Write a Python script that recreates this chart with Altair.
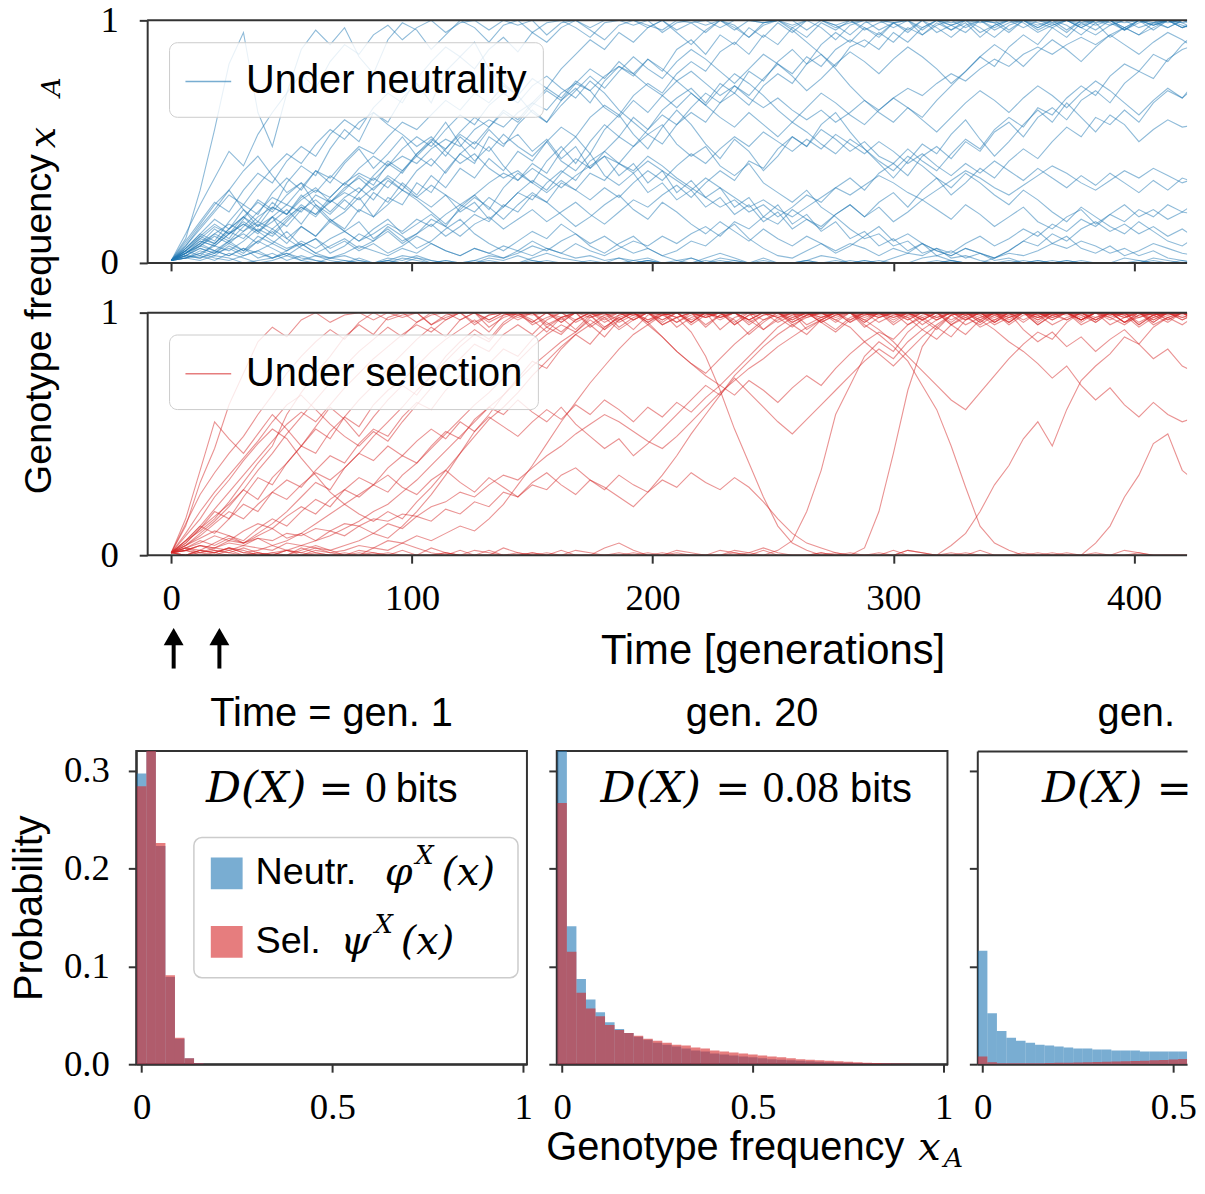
import altair as alt
import pandas as pd

alt.data_transformers.disable_max_rows()

# ---------------- trajectories: allele frequency in percent, one value every STEP generations -------------
STEP = 6

n01 = [1,10,30,55,82,95,62,48,70,88,96,90,
       97,85,78,92,99,96,88,94,100,97,91,98,
       100,95,99,100,97,93,99,100,100,98,96,100,
       99,100,97,100,100,99,100,98,100,100,97,99,
       100,100,99,96,100,100,98,100,100,99,100,100,
       97,100,100,99,100,98,100,100,100,99,100,100]
n02 = [1,4,8,14,10,18,26,22,33,40,36,47,
       55,50,62,58,68,74,66,79,85,80,88,93,
       87,95,91,97,100,96,92,98,100,97,100,95,
       90,96,100,98,93,99,100,100,96,100,98,94,
       99,100,97,100,100,95,98,100,99,100,96,100,
       100,98,100,97,100,100,99,100,96,100,100,98]
n03 = [1,2,5,3,7,4,9,13,8,15,11,18,
       14,22,19,27,24,33,29,38,45,41,52,48,
       57,63,58,67,72,66,75,81,77,84,79,88,
       92,86,94,90,97,93,99,95,100,97,92,98,
       100,96,99,100,94,98,100,97,100,99,95,100,
       98,100,96,100,99,93,97,100,98,100,99,96]
n04 = [1,6,12,9,17,24,20,29,35,30,38,33,
       41,47,39,45,52,44,50,58,49,42,48,40,
       34,41,37,46,52,45,55,61,53,47,56,63,
       57,49,43,51,46,38,44,52,48,57,62,54,
       47,41,35,42,49,45,53,59,51,44,50,57,
       63,58,66,60,54,61,57,50,55,59,56,57]
n05 = [1,3,6,4,9,5,11,8,13,7,10,4,
       7,12,9,15,11,6,9,14,18,12,8,5,
       9,13,10,16,12,7,4,8,11,6,3,5,
       9,7,12,16,10,6,3,2,5,8,4,7,
       11,15,9,12,8,5,3,6,4,2,5,9,
       13,8,11,6,4,7,3,5,8,6,4,3]
n06 = [1,4,8,5,3,6,2,4,1,3,1,0,
       0,1,0,0,2,1,0,0,0,1,0,0,
       0,0,1,0,0,0,0,0,1,2,0,0,
       0,0,0,1,0,0,0,0,0,0,1,0,
       0,0,0,0,0,1,0,0,0,0,0,0,
       1,0,0,0,0,0,2,1,0,0,0,0]
n07 = [1,7,15,22,30,38,44,36,29,33,24,18,
       13,17,10,14,9,12,18,15,23,28,22,31,
       37,33,42,48,41,50,57,52,60,55,63,68,
       72,66,74,70,79,75,83,88,82,90,95,91,
       97,93,99,95,100,97,93,98,100,96,99,100,
       97,100,98,94,99,100,97,100,98,100,99,100]
n08 = [1,5,10,8,14,19,15,23,20,27,31,25,
       30,36,32,41,37,45,50,44,52,47,55,49,
       53,46,51,43,48,39,44,36,41,33,38,29,
       34,27,31,23,27,19,24,16,20,13,17,10,
       13,7,10,5,8,3,5,2,4,1,2,0,
       1,0,0,1,0,0,0,1,0,0,0,0]
n09 = [1,3,2,5,3,6,4,2,5,8,4,7,
       10,6,9,13,8,12,16,11,15,20,17,24,
       21,28,25,33,30,37,34,41,38,44,40,35,
       31,27,23,26,21,24,19,23,28,25,31,35,
       30,37,41,36,44,48,43,50,46,54,58,52,
       60,64,59,67,71,66,74,79,76,84,88,90]
n10 = [1,6,11,8,14,19,13,17,22,16,24,20,
       26,21,29,25,33,28,36,31,39,35,43,38,
       46,42,50,56,52,60,65,61,69,74,70,78,
       83,79,87,91,86,94,90,97,93,99,96,100,
       97,94,99,100,96,100,98,95,100,97,100,99,
       95,98,100,97,100,99,96,100,98,100,97,99]
n11 = [1,8,16,24,30,22,15,19,10,6,3,1,
       0,2,0,1,0,0,0,1,0,0,0,0,
       0,1,0,0,0,0,0,0,0,1,0,0,
       2,0,0,0,0,0,0,0,1,0,0,0,
       0,0,0,0,0,0,1,0,0,0,0,0,
       0,0,1,0,0,0,0,0,0,0,1,0]
n12 = [1,2,4,2,1,3,5,2,4,1,3,2,
       4,7,5,3,6,4,8,5,3,6,4,7,
       5,9,6,4,8,5,3,6,9,7,11,8,
       12,15,11,17,14,19,16,22,18,14,20,24,
       19,23,17,21,26,22,18,24,20,15,19,23,
       17,14,19,22,16,20,24,19,22,18,21,20]
n13 = [1,9,17,25,21,30,37,33,42,48,44,53,
       59,55,64,70,66,76,83,89,85,91,80,74,
       69,76,72,80,86,92,88,95,91,97,100,96,
       99,95,100,97,93,98,100,96,91,86,80,73,
       67,62,58,64,60,67,73,79,85,81,89,94,
       90,97,93,99,96,100,97,94,99,100,97,99]
n14 = [1,4,7,5,9,12,8,14,10,15,11,17,
       13,9,14,18,12,16,20,15,11,16,19,14,
       18,22,17,21,25,20,16,21,26,23,28,32,
       27,33,38,34,42,39,47,52,48,55,51,46,
       50,44,41,47,42,38,45,51,47,55,60,56,
       64,61,68,73,69,77,82,79,86,83,90,95]
n15 = [1,5,11,16,12,19,25,21,28,33,29,36,
       32,39,44,40,47,52,48,55,61,57,65,70,
       66,73,77,72,68,75,70,63,58,53,57,49,
       44,48,40,36,41,33,29,25,30,23,19,14,
       10,12,7,9,4,6,2,3,1,0,1,0,
       0,0,1,0,0,0,0,0,1,0,0,0]
n16 = [1,2,1,3,2,0,1,2,4,2,1,0,
       1,0,0,2,1,3,1,0,0,0,1,0,
       0,2,4,2,1,0,0,0,0,1,0,0,
       0,0,2,1,0,0,0,0,0,0,0,1,
       0,0,0,0,2,3,1,0,0,0,0,0,
       0,1,0,0,0,0,0,0,2,1,0,0]
n17 = [1,6,12,18,14,22,17,25,20,28,23,17,
       21,27,19,24,30,26,21,16,22,27,23,18,
       24,29,25,20,15,19,24,28,22,18,25,21,
       16,12,17,13,9,14,10,7,11,8,5,8,
       6,3,6,4,8,5,3,6,4,2,5,9,
       7,12,9,14,17,13,16,12,15,11,14,10]
n18 = [1,12,24,35,46,40,53,62,70,78,72,83,
       90,86,94,98,92,97,100,95,99,100,96,100,
       98,100,94,99,100,97,100,100,98,100,95,99,
       100,98,100,96,100,99,100,97,100,100,98,100,
       96,99,100,100,97,100,99,100,95,98,100,100,
       99,97,100,98,100,100,96,99,100,97,100,100]
n19 = [1,4,9,7,12,16,13,19,24,21,28,25,
       31,35,30,36,32,27,23,28,21,25,18,23,
       29,26,33,38,34,42,46,41,48,53,49,57,
       62,58,66,70,65,73,78,74,82,86,81,89,
       92,88,95,91,97,100,96,99,93,98,100,97,
       100,99,95,100,98,100,96,100,99,97,100,98]
n20 = [1,3,6,4,8,5,9,6,3,7,10,6,
       9,5,8,4,7,11,8,5,3,6,4,2,
       5,3,6,4,2,3,1,2,0,1,0,0,
       0,1,0,0,0,0,0,0,0,0,0,0,
       1,0,0,0,0,0,0,0,0,0,0,1,
       0,0,0,0,0,0,0,0,0,0,0,0]
n21 = [1,5,9,7,12,16,12,19,15,22,26,21,
       27,31,26,34,30,38,43,37,45,50,46,53,
       48,44,50,42,38,45,36,32,37,29,33,26,
       30,23,27,20,24,17,21,14,18,15,20,24,
       19,25,29,23,30,35,28,33,39,35,42,47,
       43,50,56,52,60,57,63,58,66,71,68,75]
n22 = [1,2,3,1,4,2,0,1,3,1,0,2,
       1,0,0,1,3,2,0,1,0,0,2,1,
       3,1,0,0,0,1,0,2,1,0,0,1,
       0,2,4,2,0,1,0,0,1,3,2,0,
       1,0,2,4,3,6,4,8,11,7,10,14,
       11,16,13,18,15,20,17,22,19,24,21,25]
n23 = [1,3,7,12,9,15,21,27,24,31,38,35,
       42,48,45,52,58,55,61,67,63,70,66,73,
       69,62,58,65,71,77,72,79,85,80,76,83,
       88,84,79,74,80,86,82,77,71,76,82,87,
       83,78,84,89,85,80,74,79,85,90,86,81,
       87,92,88,83,89,94,90,86,91,95,92,88]
n24 = [1,5,3,8,13,10,16,12,18,24,20,27,
       33,29,36,42,38,45,51,47,54,60,56,63,
       59,66,72,68,75,71,64,60,67,62,69,75,
       70,65,72,78,74,69,63,58,64,70,66,61,
       57,63,68,64,59,54,60,66,71,67,62,68,
       73,69,64,70,75,71,66,61,67,72,68,73]
n25 = [1,2,4,7,5,9,14,11,17,23,19,26,
       22,29,35,31,38,44,40,47,53,49,56,62,
       58,65,71,67,74,80,76,83,78,73,69,64,
       70,65,60,56,62,57,52,58,54,49,45,51,
       47,42,38,44,40,35,31,37,33,28,24,30,
       26,21,17,23,19,15,12,17,13,9,7,11]
n26 = [1,3,2,4,6,3,5,8,5,9,6,10,
       13,9,12,16,13,18,15,20,24,21,27,23,
       29,34,30,37,43,39,46,52,48,55,61,57,
       64,70,66,73,69,76,82,78,85,81,88,92,
       89,95,91,97,94,99,96,100,97,93,98,100,
       96,99,100,97,94,98,100,97,99,100,98,96]
n27 = [1,7,14,21,28,24,32,39,45,41,49,55,
       51,58,62,57,53,48,52,46,41,45,39,35,
       38,33,29,34,30,26,31,27,33,38,34,40,
       45,41,47,52,48,54,50,46,51,47,53,49,
       45,50,46,41,45,40,36,41,37,42,38,34,
       39,35,31,36,32,37,33,29,34,30,35,33]
n28 = [1,4,8,12,16,13,19,23,20,26,30,27,
       33,37,34,40,44,41,47,51,48,55,59,56,
       62,66,63,70,74,71,77,81,78,84,80,75,
       79,74,69,73,68,64,68,63,59,63,58,62,
       67,63,68,72,69,74,78,75,80,84,81,86,
       89,86,90,93,90,94,97,94,97,100,97,99]
n29 = [1,5,10,15,12,17,13,9,6,8,4,2,
       3,1,0,1,0,2,1,0,0,1,3,2,
       4,7,5,9,12,8,11,7,4,6,3,1,
       2,0,1,0,0,2,0,0,1,0,0,0,
       0,1,0,0,0,0,1,0,0,2,4,3,
       5,8,6,9,7,4,6,3,5,2,1,0]
n30 = [1,4,7,11,8,13,17,14,19,23,20,25,
       29,26,31,35,30,27,32,28,24,28,33,37,
       34,39,35,31,36,40,44,41,37,42,38,34,
       30,35,31,27,23,26,22,19,23,27,31,28,
       32,36,33,29,26,30,34,38,35,31,28,32,
       36,40,37,33,30,34,38,35,39,36,33,35]

s01 = [1,12,30,44,62,75,88,94,90,97,100,96,
       99,100,97,100,98,100,95,99,100,100,97,100,
       99,100,100,96,100,98,100,100,99,100,97,100,
       100,98,100,100,96,99,100,100,98,100,100,97,
       100,99,100,100,98,100,96,100,100,99,100,100,
       98,100,100,97,100,99,100,100,96,100,100,99]
s02 = [1,6,10,15,22,30,38,45,58,67,75,82,
       90,95,91,98,100,96,99,100,97,100,94,98,
       100,99,100,96,100,100,98,93,97,100,99,100,
       96,100,98,100,100,97,99,100,95,98,100,100,
       99,100,97,100,100,98,100,99,94,97,100,100,
       98,100,99,100,96,100,100,98,100,99,100,97]
s03 = [1,2,4,3,6,5,9,13,18,24,30,27,
       36,42,49,55,61,68,74,82,88,93,89,96,
       100,97,92,98,100,95,99,100,97,100,100,94,
       98,100,100,97,91,96,100,99,100,98,100,100,
       96,100,99,100,97,100,100,98,95,99,100,100,
       97,100,100,99,96,100,98,100,100,97,100,99]
s04 = [1,2,1,3,2,4,3,2,5,4,6,8,
       11,14,18,21,26,31,37,43,49,55,61,66,
       72,78,83,88,92,97,93,99,100,96,100,98,
       100,94,99,100,97,100,100,95,98,100,99,100,
       96,100,100,98,100,97,100,100,99,95,98,100,
       100,97,100,99,100,100,96,100,98,100,100,99]
s05 = [1,8,15,24,31,39,46,52,48,40,33,26,
       21,17,14,18,15,22,28,35,42,49,56,61,
       67,74,80,86,91,95,90,97,100,96,99,100,
       97,100,93,98,100,100,96,99,100,97,100,100,
       98,100,95,99,100,100,97,100,99,100,96,100,
       100,98,100,97,100,99,100,100,95,98,100,100]
s06 = [1,9,18,26,33,40,47,55,62,66,60,54,
       49,45,51,47,55,62,69,76,81,87,84,91,
       95,91,97,100,96,99,93,97,100,95,90,84,
       79,74,70,76,82,88,94,98,100,96,99,100,
       97,100,100,98,93,97,100,99,100,96,100,100,
       99,100,97,100,100,95,98,100,99,100,97,100]
s07 = [1,0,2,1,3,2,0,1,2,4,3,1,
       2,4,3,6,5,8,6,9,12,10,15,21,
       29,37,46,55,63,71,78,85,91,95,99,96,
       100,98,100,95,99,100,100,97,100,99,100,96,
       100,100,98,100,97,100,100,99,100,96,100,100,
       98,100,100,97,100,99,100,95,99,100,100,98]
s08 = [1,3,1,0,2,0,1,0,0,2,4,2,
       0,0,1,0,0,0,3,1,0,0,0,0,
       1,0,0,2,0,0,0,0,0,1,0,0,
       0,0,0,0,1,3,1,0,0,0,0,0,
       0,0,2,0,0,0,0,1,0,0,0,0,
       0,0,0,0,1,0,0,0,0,0,0,0]
s09 = [1,3,5,8,6,10,13,11,16,20,17,23,
       27,24,29,33,28,25,31,35,30,26,32,28,
       24,30,34,29,25,31,27,33,29,26,31,28,
       34,30,27,32,28,22,15,9,5,3,1,0,
       0,1,0,0,0,0,0,0,2,0,0,0,
       0,0,1,0,0,0,0,0,0,0,0,0]
s10 = [1,4,9,14,20,27,35,42,50,57,64,71,
       78,84,89,94,90,96,100,97,100,95,99,100,
       98,100,96,92,97,100,99,100,97,100,95,98,
       92,82,68,52,38,24,12,5,2,0,1,0,
       0,0,0,2,1,0,0,0,0,0,0,1,
       0,0,0,0,0,0,2,1,0,0,0,0]
s11 = [1,2,0,1,3,1,0,0,2,1,0,0,
       1,0,3,2,5,3,1,0,0,2,1,0,
       0,0,1,0,0,0,3,5,2,0,0,1,
       0,0,0,1,0,0,2,6,18,35,58,70,
       82,88,84,92,97,93,99,100,96,100,98,100,
       95,99,100,97,100,100,96,98,100,99,100,100]
s12 = [1,0,1,2,1,0,0,1,0,3,1,0,
       0,2,1,0,0,0,0,1,0,0,2,0,
       0,1,0,0,0,0,0,1,0,0,0,2,
       1,0,0,0,0,2,0,0,0,1,0,0,
       3,18,42,68,86,94,90,97,100,96,99,100,
       97,100,100,95,98,100,99,100,97,100,100,98]
s13 = [1,5,11,18,15,24,32,29,38,45,52,48,
       57,64,70,77,83,89,94,90,97,100,96,99,
       100,95,98,100,97,100,100,94,98,100,99,100,
       96,100,98,100,97,93,98,100,100,96,99,100,
       95,91,86,80,70,60,45,28,12,5,2,0,
       1,0,0,0,0,0,0,1,0,0,0,0]
s14 = [1,2,4,2,1,3,1,0,2,0,1,0,
       0,1,0,0,2,0,0,1,0,0,0,3,
       1,0,0,0,2,1,0,0,0,0,1,0,
       0,0,0,2,1,0,0,0,0,0,0,1,
       0,0,0,2,1,0,4,9,18,29,37,48,
       55,45,60,72,78,83,90,87,94,98,95,99]
s15 = [1,0,2,1,0,0,1,0,0,0,2,1,
       0,0,0,1,0,0,0,0,2,0,0,0,
       0,1,0,0,0,0,0,0,1,0,0,0,
       0,0,2,1,0,0,0,0,0,1,0,0,
       0,0,0,0,0,0,1,0,0,0,0,0,
       0,1,0,0,5,12,24,33,46,50,35,30]
s16 = [1,0,2,1,3,1,2,4,2,1,3,2,
       4,6,9,7,12,18,25,33,42,51,58,66,
       73,80,77,85,91,87,94,98,93,99,100,96,
       99,100,97,100,95,99,100,98,100,96,92,97,
       100,99,100,97,100,100,95,98,100,97,100,93,
       88,92,86,90,84,89,93,87,81,85,78,75]
s17 = [1,5,11,16,21,27,23,32,38,45,42,51,
       57,53,62,68,72,78,84,89,93,97,92,99,
       100,96,100,98,93,99,100,97,100,100,95,98,
       100,99,100,96,100,100,98,94,99,100,97,100,
       100,98,100,95,99,100,100,97,100,99,96,100,
       100,98,100,100,97,100,99,94,98,100,100,96]
s18 = [1,4,7,10,8,5,7,4,6,9,13,17,
       21,25,29,26,33,38,44,50,56,62,67,73,
       80,86,91,95,92,98,100,96,99,100,97,100,
       95,99,100,100,97,100,98,100,93,97,100,100,
       99,100,96,100,100,98,100,97,100,100,95,99,
       100,97,100,100,98,100,96,100,99,100,97,100]
s19 = [1,13,25,34,42,49,58,66,75,82,88,93,
       89,96,100,97,99,100,95,98,100,100,97,100,
       99,100,94,98,100,100,97,100,99,100,96,100,
       100,98,100,95,99,100,100,97,100,98,100,100,
       94,98,100,99,100,97,100,100,98,100,96,100,
       99,100,100,97,100,98,100,95,99,100,100,97]
s20 = [1,3,6,4,7,5,8,11,7,9,6,10,
       8,12,9,13,11,16,14,19,17,22,20,26,
       24,29,27,33,36,31,28,24,20,26,33,41,
       50,58,66,74,80,86,91,95,91,97,100,96,
       99,100,98,100,95,99,100,100,97,100,99,100,
       96,100,100,98,100,97,100,100,99,96,100,100]
s21 = [1,6,12,9,15,21,18,26,31,28,35,41,
       38,46,52,49,57,63,60,68,74,71,79,85,
       82,89,94,91,97,100,96,99,100,97,100,98,
       100,95,99,100,97,100,100,96,99,100,98,100,
       97,93,88,82,76,70,64,60,67,74,81,87,
       92,89,96,100,97,100,99,100,96,100,98,100]
s22 = [1,15,35,55,48,42,50,58,52,45,53,61,
       56,49,57,64,70,66,74,80,86,91,88,95,
       99,96,100,97,100,94,98,100,100,97,99,100,
       96,100,98,100,100,93,97,100,99,100,96,100,
       100,98,100,97,100,100,99,95,98,100,100,97,
       100,99,100,96,100,100,98,100,97,100,99,100]
s23 = [1,3,2,5,8,6,11,15,12,18,23,20,
       27,32,29,36,41,38,45,51,48,56,61,58,
       64,59,55,61,54,49,44,48,41,46,52,58,
       64,70,66,73,67,61,55,50,56,62,68,74,
       80,85,81,88,93,89,95,91,97,93,88,84,
       79,73,78,70,64,69,62,57,63,58,55,57]
s24 = [1,6,12,19,26,33,40,47,54,59,55,62,
       69,75,81,86,91,95,92,97,100,96,99,100,
       97,100,95,98,100,99,94,98,100,96,90,84,
       79,75,81,87,92,97,100,96,99,100,97,94,
       88,83,78,84,90,95,99,100,97,100,98,100,
       95,99,100,97,100,100,96,99,100,98,100,97]
s25 = [1,2,4,3,5,4,7,6,9,8,11,10,
       13,12,15,14,17,16,20,22,26,24,29,33,
       31,36,41,45,50,54,58,55,51,47,44,49,
       55,61,67,72,77,81,86,90,94,97,93,98,
       100,96,99,100,97,100,95,99,100,98,100,96,
       100,99,97,100,100,98,95,99,100,97,100,100]
s26 = [1,4,8,13,18,15,21,26,23,29,34,31,
       36,42,39,45,41,47,52,48,55,51,57,53,
       49,55,60,56,62,58,64,60,55,61,57,63,
       59,65,70,66,72,68,63,69,74,70,77,83,
       88,92,89,95,98,94,99,100,96,100,97,100,
       99,95,98,100,97,100,100,96,99,100,98,100]

neutral_runs = [n01, n02, n03, n04, n05, n06, n07, n08, n09, n10, n11, n12, n13, n14, n15,
                n16, n17, n18, n19, n20, n21, n22, n23, n24, n25, n26, n27, n28, n29, n30]
selection_runs = [s01, s02, s03, s04, s05, s06, s07, s08, s09, s10, s11, s12, s13,
                  s14, s15, s16, s17, s18, s19, s20, s21, s22, s23, s24, s25, s26]

arrow_gens = [1, 20]
gen_axis_start, gen_axis_end = -10, 422   # left and right edge of the time axes

# ---------------- histograms: probability per frequency bin (bin k centred on k*BIN) ----------------
BIN = 0.025
gen1_neutral = [0.297, 0.357, 0.223, 0.089, 0.026, 0.006, 0.001]
gen1_selection = [0.284, 0.365, 0.226, 0.091, 0.027, 0.006, 0.001]
gen20_neutral = [0.34, 0.141, 0.087, 0.066, 0.053, 0.043, 0.036, 0.032, 0.028, 0.025,
                 0.022, 0.020, 0.018, 0.016, 0.014, 0.013, 0.011, 0.010, 0.009, 0.008,
                 0.007, 0.006, 0.005, 0.0045, 0.004, 0.0035, 0.003, 0.0025, 0.002, 0.0018,
                 0.0015, 0.0012, 0.001, 0.0008, 0.0006, 0.0005, 0.0003, 0.0002, 0.0001, 0.0001, 0.0]
gen20_selection = [0.267, 0.115, 0.073, 0.057, 0.049, 0.040, 0.035, 0.032, 0.029, 0.026,
                   0.024, 0.022, 0.020, 0.019, 0.017, 0.016, 0.014, 0.013, 0.012, 0.011,
                   0.010, 0.009, 0.008, 0.007, 0.006, 0.005, 0.0045, 0.004, 0.0035, 0.003,
                   0.0025, 0.002, 0.0016, 0.0013, 0.001, 0.0008, 0.0005, 0.0003, 0.0002, 0.0001, 0.0]
genL_neutral = [0.116, 0.052, 0.034, 0.027, 0.024, 0.022, 0.020, 0.019, 0.018, 0.017, 0.016, 0.016,
                0.015, 0.015, 0.014, 0.014, 0.014, 0.013, 0.013, 0.013, 0.013, 0.013, 0.013]
genL_selection = [0.008, 0.002, 0.001, 0.001, 0.001, 0.001, 0.001, 0.0012, 0.0014, 0.0016, 0.0018, 0.002,
                  0.0022, 0.0025, 0.0028, 0.003, 0.0033, 0.0036, 0.004, 0.0044, 0.0048, 0.0052, 0.0056]

panel_titles = ["Time = gen. 1", "gen. 20", "gen."]
divergence_values = ["0", "0.08"]

# ---------------- styling ----------------
SANS = "Liberation Sans"
SERIF = "Liberation Serif"
MATH = "DejaVu Serif"
AX = "#333333"
BLUE = "#1f77b4"
RED = "#d62728"

one = pd.DataFrame({"k": [0]})


def runs_frame(runs, label):
    rows = []
    for k, run in enumerate(runs):
        for i, v in enumerate(run):
            rows.append({"gen": i * STEP, "freq": v / 100.0, "run": k, "cond": label})
    return pd.DataFrame(rows)


def hist_frame(neu, sel):
    rows = []
    for name, vals in (("Neutr.", neu), ("Sel.", sel)):
        for k, v in enumerate(vals):
            rows.append({"lo": k * BIN - BIN / 2, "hi": k * BIN + BIN / 2, "p": v, "base": 0.0,
                         "series": name})
    return pd.DataFrame(rows)


def txt(s, x, y, font=SANS, size=40, align="left", baseline="alphabetic", italic=False, angle=0):
    return alt.Chart(one).mark_text(
        text=s, font=font, fontSize=size, fontStyle="italic" if italic else "normal",
        align=align, baseline=baseline, angle=angle, color="black",
    ).encode(x=alt.value(x), y=alt.value(y))


def ax(**kw):
    base = dict(domainColor=AX, domainWidth=2, tickColor=AX, tickWidth=2, tickSize=8, grid=False,
                labelFont=SERIF, labelFontSize=37, labelColor="black",
                titleFont=SANS, titleFontSize=40, titleFontWeight="normal", titleColor="black")
    base.update(kw)
    return alt.Axis(**base)


# ---------------- top panels ----------------
LEFT_SHIFT = 11            # the time panels start 11 px right of the histogram column
TOP_W, TOP_H = 1057, 244
PX_PER_GEN = (TOP_W - LEFT_SHIFT) / (gen_axis_end - gen_axis_start)
x_top = alt.Scale(domain=[gen_axis_start - LEFT_SHIFT / PX_PER_GEN, gen_axis_end], nice=False, zero=False)
y_top = alt.Scale(domain=[0, 1], nice=False, zero=False)
gen_ticks = [0, 100, 200, 300, 400]
arrow_df = pd.DataFrame({"gen": arrow_gens})


def spine(yval):
    return alt.Chart(one).mark_rule(color=AX, strokeWidth=2).encode(
        x=alt.XDatum(gen_axis_start, type="quantitative", scale=x_top, axis=None),
        x2=alt.X2Datum(gen_axis_end),
        y=alt.YDatum(yval, type="quantitative", scale=y_top, axis=None),
    )


def top_panel(df, label, color, x_axis, y_axis, extra=()):
    leg = alt.Legend(orient="none", legendX=22 + LEFT_SHIFT, legendY=22, title=None, symbolType="stroke",
                     symbolSize=2116, symbolStrokeWidth=1.5, symbolOpacity=0.6,
                     labelFont=SANS, labelFontSize=40, labelColor="black", labelOffset=14,
                     labelLimit=1000, padding=15.5, fillColor="rgba(255,255,255,0.8)",
                     strokeColor="#cccccc", cornerRadius=8)
    lines = alt.Chart(df).mark_line(strokeWidth=1.1, opacity=0.5, clip=True).encode(
        x=alt.X("gen:Q", scale=x_top, axis=x_axis),
        y=alt.Y("freq:Q", scale=y_top, axis=y_axis),
        detail="run:N",
        color=alt.Color("cond:N", scale=alt.Scale(domain=[label], range=[color]), legend=leg),
    )
    return alt.layer(lines, *extra, spine(0), spine(1)).resolve_axis(
        x="independent", y="independent").properties(width=TOP_W, height=TOP_H)


top1 = top_panel(
    runs_frame(neutral_runs, "Under neutrality"), "Under neutrality", BLUE,
    ax(values=gen_ticks, labels=False, title=None, domain=False),
    ax(values=[0, 1], format="~g", labelPadding=21, offset=-LEFT_SHIFT, title="Genotype frequency",
       titleFontSize=38, titlePadding=41.5, titleY=305, titleAlign="center", titleAngle=270,
       titleBaseline="bottom"),
    extra=[txt("x", -93 + LEFT_SHIFT, 118, font=MATH, size=38, align="center", italic=True, angle=270),
           txt("A", -88 + LEFT_SHIFT, 67, font=MATH, size=27, align="center", italic=True, angle=270)],
)

arrow_shaft = alt.Chart(arrow_df).mark_rule(strokeWidth=4, color="black").encode(
    x=alt.X("gen:Q", scale=x_top, axis=None), y=alt.value(333), y2=alt.value(358))
arrow_head = alt.Chart(arrow_df).mark_point(shape="triangle-up", filled=True, size=400, color="black",
                                            opacity=1).encode(
    x=alt.X("gen:Q", scale=x_top, axis=None), y=alt.value(326))

top2 = top_panel(
    runs_frame(selection_runs, "Under selection"), "Under selection", RED,
    ax(values=gen_ticks, labelPadding=18, domain=False, title="Time [generations]", titleFontSize=42,
       titlePadding=14, titleX=629 + LEFT_SHIFT, titleAlign="center"),
    ax(values=[0, 1], format="~g", labelPadding=21, offset=-LEFT_SHIFT, title=None),
    extra=[arrow_shaft, arrow_head],
)

# ---------------- bottom panels ----------------
H_W, H_H = 393, 315
x_h = alt.Scale(domain=[-0.014, 1.01], nice=False, zero=False)
x_h3 = alt.Scale(domain=[-0.014, 0.536], nice=False, zero=False)
y_h = alt.Scale(domain=[0, 0.32], nice=False, zero=False)
prob_ticks = [0, 0.1, 0.2, 0.3]

hist_legend = alt.Legend(orient="none", legendX=58, legendY=90, title=None, symbolType="square",
                         symbolSize=1024, symbolOpacity=0.6, symbolStrokeWidth=0,
                         labelFont=SANS, labelFontSize=38, labelColor="black", labelOffset=10,
                         rowPadding=31, padding=14, labelLimit=1000)


def bars(df, xs, x_axis, y_axis, legend):
    return alt.Chart(df).mark_rect(opacity=0.6, clip=True).encode(
        x=alt.X("lo:Q", scale=xs, axis=x_axis),
        x2="hi:Q",
        y=alt.Y("p:Q", scale=y_h, axis=y_axis),
        y2="base:Q",
        color=alt.Color("series:N", scale=alt.Scale(domain=["Neutr.", "Sel."], range=[BLUE, RED]),
                        legend=legend),
    )


def dx_text(xr, xe, xv, xb, value):
    layers = [txt("D(X)", xr, 51, font=MATH, size=44, align="right", italic=True),
              txt("=", xe, 51, font=MATH, size=42, align="center")]
    if value is not None:
        layers.append(txt(value, xv, 51, font=SERIF, size=44, align="left"))
        layers.append(txt("bits", xb, 51, font=SANS, size=40, align="left"))
    return layers


box = alt.ViewBackground(stroke=AX, strokeWidth=2)

legend_frame = alt.Chart(one).mark_rect(cornerRadius=8, fill="white", fillOpacity=0, stroke="#cccccc",
                                        strokeWidth=1.5).encode(
    x=alt.value(58), x2=alt.value(384), y=alt.value(87), y2=alt.value(228))

h1 = alt.layer(
    bars(hist_frame(gen1_neutral, gen1_selection), x_h,
         ax(values=[0, 0.5, 1], format="~g", labelPadding=18, title=None),
         ax(values=prob_ticks, format=".1f", labelPadding=19, title="Probability", titlePadding=14),
         hist_legend),
    legend_frame,
    txt(panel_titles[0], H_W / 2, -25, size=40, align="center"),
    *dx_text(171, 201, 230, 261, divergence_values[0]),
    txt("\u03c6", 264, 123, font=MATH, size=40, align="center", baseline="middle", italic=True),
    txt("X", 290, 106, font=MATH, size=26, align="center", baseline="middle", italic=True),
    txt("(x)", 334, 123, font=MATH, size=40, align="center", baseline="middle", italic=True),
    txt("\u03c8", 221, 192, font=MATH, size=40, align="center", baseline="middle", italic=True),
    txt("X", 249, 175, font=MATH, size=26, align="center", baseline="middle", italic=True),
    txt("(x)", 293, 192, font=MATH, size=40, align="center", baseline="middle", italic=True),
).properties(width=H_W, height=H_H, view=box)

h2 = alt.layer(
    bars(hist_frame(gen20_neutral, gen20_selection), x_h,
         ax(values=[0, 0.5, 1], format="~g", labelPadding=18, title="Genotype frequency",
            titlePadding=2, titleX=169, titleAlign="center"),
         ax(values=prob_ticks, labels=False, title=None),
         None),
    txt(panel_titles[1], H_W / 2, -25, size=40, align="center"),
    *dx_text(145, 177, 207, 295, divergence_values[1]),
    txt("x", 375, 411, font=MATH, size=40, align="center", italic=True),
    txt("A", 399, 418, font=MATH, size=27, align="center", italic=True),
).properties(width=H_W, height=H_H, view=box)

df3 = hist_frame(genL_neutral, genL_selection)
spine3 = alt.Chart(df3).mark_point(opacity=0, size=1).encode(
    x=alt.X("lo:Q", scale=x_h3,
            axis=alt.Axis(orient="top", labels=False, ticks=False, domain=True, domainColor=AX,
                          domainWidth=2, grid=False, title=None)))
h3 = alt.layer(
    bars(df3, x_h3, ax(values=[0, 0.5], format="~g", labelPadding=18, title=None),
         ax(values=prob_ticks, labels=False, title=None), None),
    txt(panel_titles[2], 121, -25, size=40, align="left"),
    *dx_text(166, 198, 0, 0, None),
    spine3,
).resolve_axis(x="independent").properties(width=211, height=H_H)

top = alt.vconcat(top1, top2, spacing=50, bounds="flush").resolve_scale(color="independent")
bottom = alt.hconcat(h1, h2, h3, spacing=30, bounds="flush").resolve_scale(color="independent")

chart = alt.concat(top, bottom, columns=1, spacing=22).resolve_scale(
    color="independent").properties(
    padding={"top": -10, "bottom": -3, "left": 0, "right": 0}, background="white"
).configure_view(strokeWidth=0)

chart.save("out.html", embed_options={"renderer": "svg", "actions": False})
